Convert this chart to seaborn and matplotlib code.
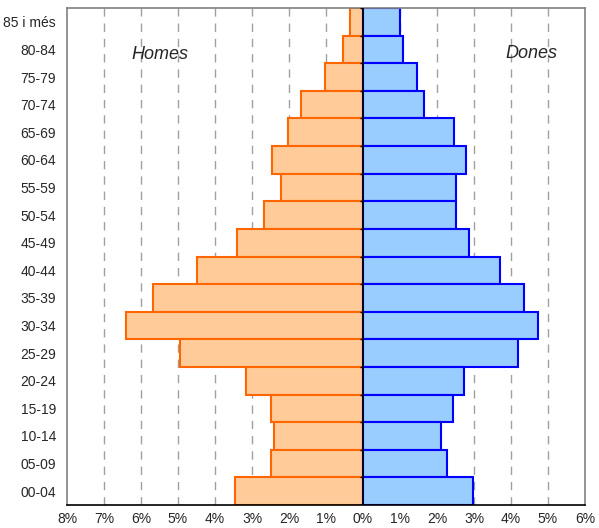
import numpy as np
import pandas as pd
import seaborn as sns
import matplotlib.pyplot as plt

# age groups, top to bottom
ages = ["85 i més", "80-84", "75-79", "70-74", "65-69", "60-64", "55-59", "50-54",
        "45-49", "40-44", "35-39", "30-34", "25-29", "20-24", "15-19", "10-14",
        "05-09", "00-04"]
# percentage of population
homes = [0.36, 0.54, 1.04, 1.68, 2.04, 2.45, 2.22, 2.67, 3.40, 4.49, 5.68, 6.41,
         4.94, 3.17, 2.50, 2.40, 2.50, 3.45]
dones = [1.00, 1.09, 1.46, 1.64, 2.47, 2.78, 2.51, 2.51, 2.87, 3.70, 4.34, 4.74,
         4.19, 2.74, 2.43, 2.10, 2.28, 2.97]
xticks = list(range(-8, 7))

data = pd.DataFrame({"edat": ages, "homes": -np.array(homes), "dones": dones})

sns.set_theme(style="white")
plt.rcParams["font.family"] = ["Liberation Sans", "DejaVu Sans"]

fig = plt.figure(figsize=(5.99, 5.28), dpi=100)
ax = fig.add_axes([67 / 599, 23 / 528, 518 / 599, 497 / 528])

# dashed grid behind the bars
for t in xticks[1:-1]:
    if t != 0:
        ax.axvline(t, color="#a0a0a0", linestyle=(0, (6, 5)), linewidth=1, zorder=0)

sns.barplot(data=data, x="homes", y="edat", orient="h", width=1, saturation=1,
            color="#FFCC99", edgecolor="#FF6600", linewidth=1.5, ax=ax, zorder=2)
sns.barplot(data=data, x="dones", y="edat", orient="h", width=1, saturation=1,
            color="#99CCFF", edgecolor="#0000FF", linewidth=1.5, ax=ax, zorder=2)

# central axis with small ticks at group boundaries
ax.axvline(0, color="black", linewidth=1.2, zorder=3)
ax.hlines(np.arange(len(ages) + 1) - 0.5, -0.08, 0, color="black", linewidth=1, zorder=3)

ax.set_xlim(-8, 6)
ax.set_ylim(len(ages) - 0.5, -0.5)
ax.set_xticks(xticks)
ax.set_xticklabels([f"{abs(t)}%" for t in xticks], fontsize=10)
ax.set_yticklabels(ages, fontsize=10)
ax.set_xlabel("")
ax.set_ylabel("")
ax.tick_params(axis="x", direction="out", length=3, width=1, color="black", pad=2)
ax.tick_params(axis="y", length=0, pad=8)

for side in ["top", "right", "left"]:
    ax.spines[side].set_color("#808080")
    ax.spines[side].set_linewidth(1.2)
ax.spines["bottom"].set_color("black")
ax.spines["bottom"].set_linewidth(1.2)

ax.text(-5.5, 1.2, "Homes", fontsize=13, style="italic", ha="center", va="center")
ax.text(4.55, 1.15, "Dones", fontsize=13, style="italic", ha="center", va="center")

fig.savefig("out.png", dpi=100, facecolor="white")
